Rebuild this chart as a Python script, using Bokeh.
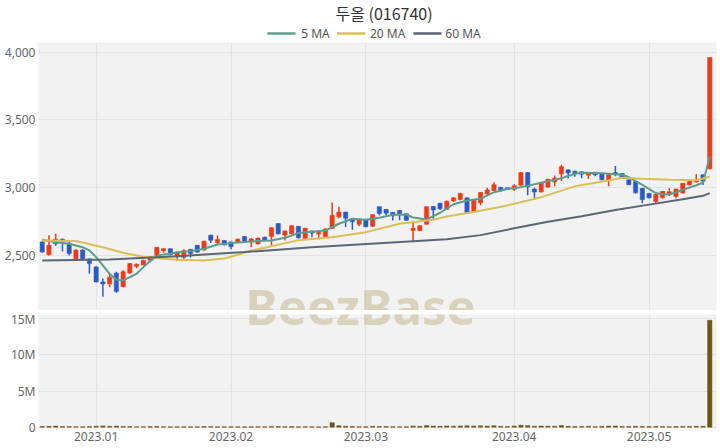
import pandas as pd
from bokeh.plotting import figure
from bokeh.models import ColumnDataSource, Range1d, FixedTicker, NumeralTickFormatter
from bokeh.layouts import column
from bokeh.core.properties import value
from bokeh.embed import file_html
from bokeh.resources import INLINE

title_text = "두올 (016740)"
watermark = "BeezBase"

# KRX trading days shown (weekdays minus market holidays)
holidays = ["2022-12-30", "2023-01-23", "2023-01-24", "2023-03-01", "2023-05-01", "2023-05-05"]
dates = [d for d in pd.bdate_range("2022-12-20", "2023-05-16") if d.strftime("%Y-%m-%d") not in holidays]

opens = [2600, 2505, 2585, 2620, 2590, 2475, 2540, 2475, 2415, 2305,
         2290, 2370, 2270, 2370, 2420, 2430, 2465, 2500, 2535, 2550,
         2490, 2485, 2545, 2575, 2540, 2650, 2595, 2610, 2600, 2595,
         2640, 2600, 2585, 2635, 2640, 2735, 2650, 2660, 2715, 2625,
         2680, 2658, 2635, 2700, 2785, 2820, 2770, 2730, 2762, 2715,
         2860, 2840, 2818, 2832, 2808, 2685, 2685, 2730, 2862, 2885,
         2840, 2902, 2912, 2925, 2820, 2888, 2955, 2980, 3003, 3000,
         2988, 3018, 3112, 2990, 2968, 3005, 3042, 3102, 3132, 3122,
         3118, 3092, 3113, 3105, 3050, 3112, 3105, 3058, 3045, 2995,
         2958, 2898, 2925, 2952, 2935, 2960, 3020, 3042, 3095, 3140]
highs = [2605, 2650, 2660, 2625, 2600, 2545, 2545, 2478, 2420, 2330,
         2365, 2380, 2390, 2445, 2440, 2468, 2495, 2562, 2555, 2552,
         2525, 2545, 2548, 2578, 2608, 2652, 2648, 2612, 2602, 2625,
         2642, 2628, 2632, 2638, 2710, 2738, 2685, 2724, 2718, 2705,
         2685, 2675, 2700, 2890, 2860, 2822, 2772, 2770, 2765, 2805,
         2862, 2842, 2820, 2835, 2810, 2755, 2722, 2862, 2865, 2888,
         2905, 2930, 2962, 2928, 2912, 2968, 3000, 3040, 3005, 3002,
         3025, 3115, 3115, 3000, 3042, 3065, 3090, 3170, 3135, 3125,
         3120, 3116, 3116, 3108, 3100, 3160, 3108, 3060, 3048, 2998,
         2960, 2955, 2976, 2995, 2993, 3035, 3058, 3100, 3098, 3960]
lows = [2520, 2500, 2570, 2530, 2500, 2470, 2470, 2365, 2300, 2195,
        2265, 2225, 2265, 2365, 2405, 2428, 2455, 2498, 2520, 2500,
        2460, 2475, 2485, 2520, 2535, 2592, 2582, 2575, 2545, 2592,
        2600, 2562, 2580, 2608, 2575, 2655, 2611, 2655, 2625, 2615,
        2635, 2620, 2630, 2695, 2775, 2710, 2690, 2715, 2708, 2710,
        2795, 2795, 2758, 2760, 2755, 2605, 2680, 2728, 2770, 2835,
        2835, 2895, 2908, 2810, 2818, 2870, 2945, 2975, 2970, 2985,
        2975, 3015, 2945, 2910, 2965, 3000, 3010, 3050, 3070, 3080,
        3070, 3065, 3085, 3055, 3010, 3085, 3072, 3018, 2958, 2885,
        2920, 2885, 2920, 2938, 2922, 2957, 3018, 3038, 3020, 3135]
closes = [2525, 2575, 2620, 2605, 2515, 2540, 2475, 2440, 2305, 2290,
          2340, 2235, 2380, 2440, 2435, 2465, 2490, 2560, 2550, 2505,
          2520, 2535, 2515, 2525, 2605, 2612, 2618, 2578, 2565, 2620,
          2605, 2622, 2628, 2612, 2705, 2660, 2680, 2720, 2630, 2700,
          2665, 2670, 2695, 2795, 2820, 2775, 2748, 2762, 2712, 2800,
          2810, 2812, 2792, 2808, 2760, 2700, 2720, 2860, 2835, 2845,
          2900, 2925, 2958, 2815, 2910, 2965, 2983, 3022, 2982, 2988,
          3015, 3112, 3005, 2968, 3040, 3062, 3072, 3155, 3108, 3103,
          3100, 3113, 3095, 3058, 3098, 3096, 3076, 3022, 2962, 2912,
          2925, 2950, 2973, 2970, 2990, 3032, 3055, 3055, 3048, 3960]
volumes = [95000, 120000, 150000, 90000, 85000, 70000, 65000, 80000, 140000, 180000,
           130000, 150000, 110000, 90000, 60000, 70000, 80000, 100000, 75000, 60000,
           55000, 60000, 50000, 55000, 90000, 80000, 60000, 55000, 50000, 45000,
           60000, 50000, 70000, 55000, 110000, 95000, 60000, 80000, 70000, 65000,
           50000, 45000, 70000, 620000, 210000, 130000, 90000, 70000, 60000, 120000,
           100000, 80000, 70000, 60000, 55000, 160000, 120000, 230000, 150000, 120000,
           170000, 140000, 180000, 200000, 160000, 190000, 150000, 210000, 120000, 90000,
           150000, 260000, 230000, 140000, 160000, 150000, 130000, 220000, 120000, 90000,
           100000, 120000, 70000, 130000, 150000, 160000, 110000, 90000, 120000, 100000,
           80000, 90000, 85000, 70000, 90000, 110000, 100000, 130000, 120000, 14800000]

# moving averages (trading-day index, value)
ma5_idx = [0, 2, 4, 6, 7, 8, 9, 10, 11, 12, 13, 14, 15, 16, 17, 18, 19, 20, 22, 24, 26, 28, 30, 32, 34, 36, 38,
           40, 42, 44, 46, 48, 50, 52, 54, 55, 57, 59, 61, 63, 65, 67, 69, 71, 73, 75, 77, 79, 80, 83, 86, 87,
           89, 91, 92, 93, 95, 97, 98, 99]
ma5_val = [2616, 2598, 2586, 2561, 2537, 2488, 2426, 2365, 2321, 2316, 2340, 2365, 2414, 2458, 2493, 2508,
           2512, 2524, 2532, 2549, 2581, 2591, 2599, 2606, 2611, 2630, 2665, 2675, 2684, 2734, 2771, 2763,
           2778, 2800, 2800, 2780, 2765, 2815, 2878, 2906, 2918, 2967, 2991, 3004, 3025, 3048, 3070, 3102,
           3110, 3106, 3095, 3078, 3020, 2960, 2951, 2950, 2984, 3018, 3036, 3230]
ma20_idx = [0, 5, 9, 12, 15, 18, 20, 24, 27, 29, 31, 34, 38, 43, 48, 53, 58, 60, 64, 69, 74, 79, 84, 86,
            89, 93, 97, 99]
ma20_val = [2611, 2606, 2561, 2520, 2490, 2475, 2468, 2463, 2478, 2505, 2535, 2568, 2613, 2635, 2672,
            2734, 2763, 2788, 2820, 2869, 2930, 3010, 3053, 3073, 3065, 3058, 3055, 3080]
ma60_idx = [0, 10, 20, 30, 40, 50, 60, 65, 70, 75, 80, 85, 90, 95, 98, 99]
ma60_val = [2463, 2470, 2495, 2525, 2560, 2590, 2620, 2650, 2700, 2748, 2790, 2835, 2875, 2915, 2940, 2960]

price_ticks = [2500, 3000, 3500, 4000]
vol_ticks = [0, 5000000, 10000000, 15000000]
vol_tick_labels = ["0", "5M", "10M", "15M"]
month_labels = ["2023.01", "2023.02", "2023.03", "2023.04", "2023.05"]
ma_labels = ["5 MA", "20 MA", "60 MA"]

UP, DOWN = "#ee3a16", "#2a5bc6"
C5, C20, C60 = "#5c9e8e", "#d8bf58", "#5d6579"
BG, GRID, TXT = "#f2f2f2", "#e3e3e3", "#666666"
FONT = "Noto Sans"
W = 720

idx = list(range(len(dates)))
month_pos = [next(i for i, d in enumerate(dates) if d.strftime("%Y.%m") == m) for m in month_labels]

src = ColumnDataSource(dict(
    x=idx, open=opens, high=highs, low=lows, close=closes, vol=volumes,
    top=[max(o, c) for o, c in zip(opens, closes)],
    bottom=[min(o, c) for o, c in zip(opens, closes)],
    color=[UP if c >= o else DOWN for o, c in zip(opens, closes)],
))


def style_axis(ax):
    ax.axis_line_color = None
    ax.major_tick_line_color = None
    ax.minor_tick_line_color = None
    ax.major_tick_out = 0
    ax.major_tick_in = 0
    ax.minor_tick_out = 0
    ax.minor_tick_in = 0
    ax.major_label_standoff = 3
    ax.major_label_text_font = FONT
    ax.major_label_text_font_size = "12px"
    ax.major_label_text_color = TXT


# ---------- header: title + legend (pixel space) ----------
HH = 42
head = figure(width=W, height=HH, x_range=Range1d(0, W), y_range=Range1d(0, HH),
              output_backend="svg", toolbar_location=None, min_border=0,
              outline_line_color=None, background_fill_color="white", border_fill_color="white")
head.axis.visible = False
head.grid.visible = False
head.text(x=[367], y=[HH - 12], text=[title_text], text_align="center", text_baseline="middle",
          text_font=value("Noto Sans CJK KR"), text_font_size="16px", text_color="#333333")
leg_line_x0 = [243, 317, 398]
leg_text_x = [279, 352, 432]
leg_y = HH - 33
head.segment(x0=leg_line_x0, y0=[leg_y] * 3, x1=[x + 30 for x in leg_line_x0], y1=[leg_y] * 3,
             line_color=[C5, C20, C60], line_width=2.5)
head.text(x=leg_text_x, y=[leg_y] * 3, text=ma_labels, text_align="left", text_baseline="middle",
          text_font=value(FONT), text_font_size="12px", text_color="#555555")

# ---------- price panel ----------
xr = Range1d(-0.55, 100.0)
top = figure(width=W, height=268, x_range=xr, y_range=Range1d(2094, 4071),
             output_backend="svg", toolbar_location=None,
             min_border_left=38, min_border_right=4, min_border_bottom=0, min_border_top=0,
             background_fill_color=BG, border_fill_color="white", outline_line_color=None)

WM = dict(text_align="center", text_baseline="middle", text_font=value(FONT),
          text_font_style="bold", text_font_size="49px", text_color="#c8bd98", text_alpha=0.6)
# watermark, upper part (clipped by this frame)
top.text(x=[47.2], y=[2168], text=[watermark], y_offset=6, **WM)

top.segment(x0="x", y0="low", x1="x", y1="high", color="color", line_width=1.5, source=src)
top.vbar(x="x", top="top", bottom="bottom", width=0.64, fill_color="color", line_color="color",
         line_width=0.5, source=src)
top.line(ma5_idx, ma5_val, line_color=C5, line_width=2)
top.line(ma20_idx, ma20_val, line_color=C20, line_width=2)
top.line(ma60_idx, ma60_val, line_color=C60, line_width=2)

top.xaxis.visible = False
top.xgrid.ticker = FixedTicker(ticks=month_pos)
top.yaxis.ticker = FixedTicker(ticks=price_ticks)
top.yaxis.formatter = NumeralTickFormatter(format="0,0")
for ax in top.yaxis:
    style_axis(ax)
top.grid.grid_line_color = GRID

# ---------- volume panel ----------
bot = figure(width=W, height=138, x_range=xr, y_range=Range1d(-0.18e6, 15.6e6),
             output_backend="svg", toolbar_location=None,
             min_border_left=38, min_border_right=4, min_border_top=4, min_border_bottom=20,
             background_fill_color=BG, border_fill_color="white", outline_line_color=None)
# watermark, lower part (clipped by this frame)
bot.text(x=[47.2], y=[14.77e6], text=[watermark], y_offset=-14, **WM)
bot.vbar(x="x", top="vol", bottom=0, width=0.64, fill_color="#6e5616", line_color="#6e5616",
         line_width=0.5, source=src)
bot.xaxis.ticker = FixedTicker(ticks=month_pos)
bot.xaxis.major_label_overrides = {p: m for p, m in zip(month_pos, month_labels)}
bot.yaxis.ticker = FixedTicker(ticks=vol_ticks)
bot.yaxis.major_label_overrides = {t: l for t, l in zip(vol_ticks, vol_tick_labels)}
for ax in list(bot.xaxis) + list(bot.yaxis):
    style_axis(ax)
bot.grid.grid_line_color = GRID

layout = column(head, top, bot, spacing=0)
open("out.html", "w").write(file_html(layout, INLINE))
